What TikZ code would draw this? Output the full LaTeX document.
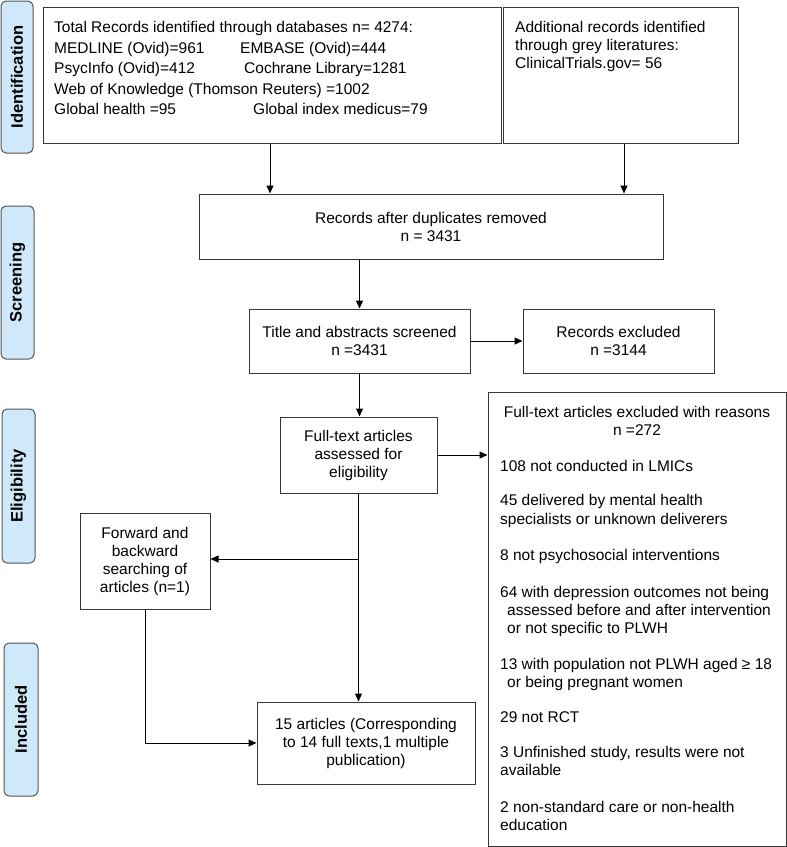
\documentclass[tikz,border=0pt]{standalone}
\usepackage{fontspec}
\setmainfont{Liberation Sans}
\usetikzlibrary{arrows.meta}
\definecolor{sidefill}{RGB}{208,233,250}
\definecolor{sidedraw}{RGB}{85,85,85}
\definecolor{boxdraw}{RGB}{55,55,55}
\begin{document}
\begin{tikzpicture}[x=1pt,y=-1pt,
  box/.style={draw=boxdraw,line width=1pt,rectangle,inner sep=0pt,align=center,font=\fontsize{15.5}{18}\selectfont},
  side/.style={draw=sidedraw,fill=sidefill,rounded corners=5pt,line width=1pt,rotate=90,inner sep=0pt,font=\fontsize{16.5}{20}\selectfont\bfseries},
  arr/.style={-{Triangle[length=8pt,width=7pt]},line width=1pt},
  ln/.style={line width=1pt},
  txt/.style={anchor=base west,inner sep=0pt,font=\fontsize{15.5}{18}\selectfont},
  ctxt/.style={anchor=base,inner sep=0pt,font=\fontsize{15.5}{18}\selectfont}]
\useasboundingbox (0,0) rectangle (787,847);
\fill[white] (0,0) rectangle (787,847);

% side labels
\node[side,minimum width=152pt,minimum height=32pt] (sid) at (17,77) {Identification};
\node[side,minimum width=153pt,minimum height=33pt] (sscr) at (17.5,282.5) {Screening};
\node[side,minimum width=154pt,minimum height=33pt] (selig) at (18.5,486) {Eligibility};
\node[side,minimum width=153pt,minimum height=34pt] (sinc) at (21,719.5) {Included};

% identification boxes
\node[box,minimum width=458pt,minimum height=136pt] (total) at (272,75) {};
\node[txt] (t1) at (54,32.5) {Total Records identified through databases n= 4274:};
\node[txt] (t2) at (54,53.5) {MEDLINE (Ovid)=961};
\node[txt] (t3) at (240,53.5) {EMBASE (Ovid)=444};
\node[txt] (t4) at (54,73.5) {PsycInfo (Ovid)=412};
\node[txt] (t5) at (244,73.5) {Cochrane Library=1281};
\node[txt] (t6) at (54,94.5) {Web of Knowledge (Thomson Reuters) =1002};
\node[txt] (t7) at (54,114.5) {Global health =95};
\node[txt] (t8) at (253,114.5) {Global index medicus=79};

\node[box,minimum width=235pt,minimum height=136pt] (add) at (620.5,75) {};
\node[txt] (a1) at (515,32) {Additional records identified};
\node[txt] (a2) at (515,50) {through grey literatures:};
\node[txt] (a3) at (515,68) {ClinicalTrials.gov= 56};

% flow boxes
\node[box,minimum width=464pt,minimum height=65pt] (dup) at (431,226.5) {Records after duplicates removed\\n = 3431};
\node[box,minimum width=221pt,minimum height=64pt] (title) at (359.5,341) {Title and abstracts screened\\n =3431};
\node[box,minimum width=191pt,minimum height=64pt] (recex) at (618.5,341) {Records excluded\\n =3144};
\node[box,minimum width=157pt,minimum height=76pt] (full) at (358.5,455) {Full-text articles\\assessed for\\eligibility};
\node[box,minimum width=130pt,minimum height=96pt] (fwd) at (145,561) {Forward and\\backward\\searching of\\articles (n=1)};
\node[box,minimum width=218pt,minimum height=82pt] (incl) at (366,743) {15 articles (Corresponding\\to 14 full texts,1 multiple\\publication)};

% exclusion box
\node[box,minimum width=298pt,minimum height=454pt] (excl) at (637,619) {};
\node[ctxt] (e0) at (637,417) {Full-text articles excluded with reasons};
\node[ctxt] (e1) at (637,435) {n =272};
\node[txt] (e2) at (500,471) {108 not conducted in LMICs};
\node[txt] (e3) at (500,505) {45 delivered by mental health};
\node[txt] (e4) at (500,524) {specialists or unknown deliverers};
\node[txt] (e5) at (500,560) {8 not psychosocial interventions};
\node[txt] (e6) at (500,597) {64 with depression outcomes not being};
\node[txt] (e7) at (507,615) {assessed before and after intervention};
\node[txt] (e8) at (507,633) {or not specific to PLWH};
\node[txt] (e9) at (500,669) {13 with population not PLWH aged ≥ 18};
\node[txt] (e10) at (507,687) {or being pregnant women};
\node[txt] (e11) at (500,722) {29 not RCT};
\node[txt] (e12) at (500,757) {3 Unfinished study, results were not};
\node[txt] (e13) at (500,775) {available};
\node[txt] (e14) at (500,812) {2 non-standard care or non-health};
\node[txt] (e15) at (500,830) {education};

% connectors
\coordinate (c1) at (270,0);
\coordinate (c2) at (624,0);
\coordinate (c3) at (0,559);
\draw[arr] (total.south -| c1) -- (dup.north -| c1);
\draw[arr] (add.south -| c2) -- (dup.north -| c2);
\draw[arr] (dup.south -| title.north) -- (title.north);
\draw[arr] (title.east) -- (recex.west);
\draw[arr] (title.south) -- (title.south |- full.north);
\draw[arr] (full.east) -- (full.east -| excl.west);
\draw[arr] (full.south) -- (full.south |- incl.north);
\coordinate (br) at (full.south |- c3);
\draw[arr] (br) -- (br -| fwd.east);
\draw[arr] (fwd.south) -- (fwd.south |- incl.west) -- (incl.west);
\end{tikzpicture}
\end{document}
